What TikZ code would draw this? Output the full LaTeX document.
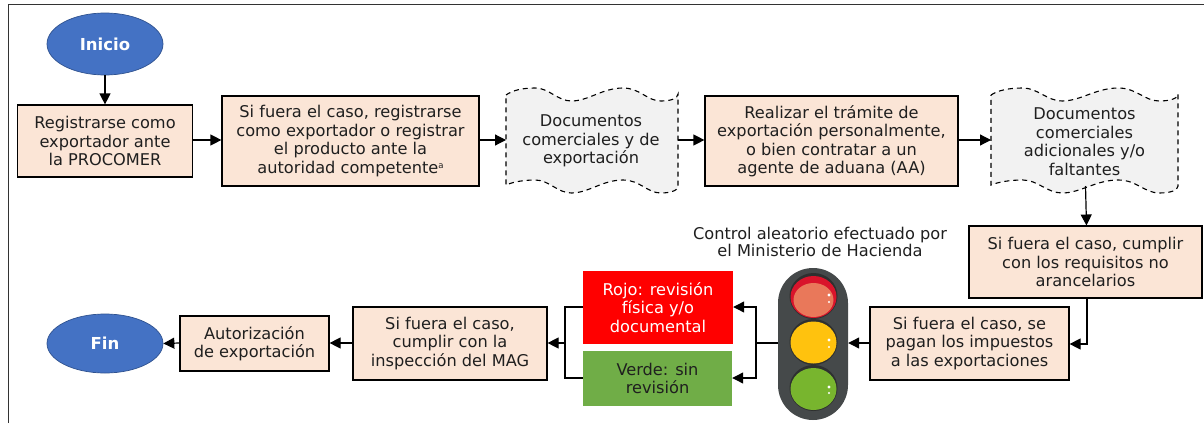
\documentclass[tikz,border=0pt]{standalone}
\usepackage{fontspec}
\setmainfont{DejaVu Sans}
\usetikzlibrary{arrows.meta,shapes.geometric}
\definecolor{peach}{HTML}{FBE5D6}
\definecolor{docgray}{HTML}{F2F2F2}
\definecolor{ovalblue}{HTML}{4472C4}
\definecolor{ovalline}{HTML}{2F528F}
\definecolor{sred}{HTML}{FF0000}
\definecolor{sgreen}{HTML}{70AD47}
\definecolor{housing}{HTML}{45494A}
\definecolor{lampshade}{HTML}{2E3030}
\definecolor{lampredrim}{HTML}{D9142B}
\definecolor{lampred}{HTML}{E9785A}
\definecolor{lampyellow}{HTML}{FFC20E}
\definecolor{lampgreen}{HTML}{78B52E}
\tikzset{
  x=1pt,y=-1pt,
  txt/.style={font=\fontsize{16.2}{18.5}\selectfont,align=center,text=black!88},
  box/.style={txt,draw=black,line width=1.2pt,fill=peach,inner sep=0pt},
  oval/.style={ellipse,draw=ovalline,fill=ovalblue,line width=.7pt,inner sep=0pt,text=white,font=\fontsize{16.5}{19}\selectfont\bfseries},
  flat/.style={txt,inner sep=0pt},
  conn/.style={line width=1.2pt,draw=black,-{Triangle[length=11pt,width=11pt]}},
  plainline/.style={line width=1.2pt,draw=black},
  docline/.style={draw=black,line width=1.1pt,dash pattern=on 5pt off 4pt,fill=docgray},
}
\newcommand{\rectnode}[7]{\node[#1,minimum width=#4-#2,minimum height=#5-#3] (#6) at ({(#2+#4)/2},{(#3+#5)/2}) {#7};}
% wavy document outline: left, top, right, top of lower wave
\newcommand{\docshape}[4]{%
  \pgfmathsetmacro{\w}{(#3-#1)}%
  \draw[docline] (#1,#2+7)
    .. controls ({#1+.04*\w},#2+2) and ({#1+.1*\w},#2) .. ({#1+.17*\w},#2)
    .. controls ({#1+.25*\w},#2) and ({#1+.3*\w},#2+13) .. ({#1+.38*\w},#2+13)
    .. controls ({#1+.48*\w},#2+13) and ({#1+.56*\w},#2) .. ({#1+.68*\w},#2)
    .. controls ({#1+.78*\w},#2) and ({#1+.82*\w},#2+13) .. ({#1+.9*\w},#2+13)
    .. controls ({#1+.95*\w},#2+13) and (#3,#2+11) .. (#3,#2+6)
    -- (#3,#4+6)
    .. controls (#3,#4+11) and ({#1+.95*\w},#4+13) .. ({#1+.9*\w},#4+13)
    .. controls ({#1+.82*\w},#4+13) and ({#1+.78*\w},#4) .. ({#1+.68*\w},#4)
    .. controls ({#1+.56*\w},#4) and ({#1+.48*\w},#4+13) .. ({#1+.38*\w},#4+13)
    .. controls ({#1+.3*\w},#4+13) and ({#1+.25*\w},#4) .. ({#1+.17*\w},#4)
    .. controls ({#1+.1*\w},#4) and ({#1+.04*\w},#4+2) .. (#1,#4+5)
    -- cycle;}
\begin{document}
\begin{tikzpicture}
\useasboundingbox (0,0) rectangle (1204,423);
\draw[line width=1.5pt,draw=black!80] (8.5,423) -- (8.5,4.5) -- (1204,4.5);

\node[oval,minimum width=116,minimum height=62] (inicio) at (105,44) {Inicio};
\rectnode{box}{17.5}{105}{192.5}{177}{reg}{Registrarse como\\exportador ante\\la PROCOMER}
\rectnode{box}{222}{96}{479}{186}{si1}{Si fuera el caso, registrarse\\como exportador o registrar\\el producto ante la\\autoridad competente\raisebox{5pt}{\fontsize{8.5}{9}\selectfont a}}

\docshape{506}{88}{678}{180}
\node[flat] (doc1) at (591,141) {Documentos\\comerciales y de\\exportación};
\rectnode{box}{705}{96}{958}{186}{real}{Realizar el trámite de\\exportación personalmente,\\o bien contratar a un\\agente de aduana (AA)}
\docshape{991}{88}{1178}{180}
\node[flat] (doc2) at (1084.5,141.5) {Documentos\\comerciales\\adicionales y/o\\faltantes};
\coordinate (doc1w) at (506,140);
\coordinate (doc1e) at (678,140);
\coordinate (doc2w) at (991,140);
\coordinate (doc2s) at (1085.5,186);
\coordinate (si2n) at (1086.5,225.5);

\rectnode{box}{969}{226}{1202}{298}{si2}{Si fuera el caso, cumplir\\con los requisitos no\\arancelarios}
\rectnode{box}{870}{307}{1069}{380}{si3}{Si fuera el caso, se\\pagan los impuestos\\a las exportaciones}
\node[flat,font=\fontsize{16.2}{17}\selectfont] (ctrl) at (820,242) {Control aleatorio efectuado por\\el Ministerio de Hacienda};

% traffic light
\node[draw=none,fill=housing,rounded corners=35pt,minimum width=70,minimum height=152,inner sep=0pt] (light) at (813,344) {};
\fill[lampshade] (813.5,296) ellipse (24 and 23);
\fill[lampshade] (813.5,342) ellipse (24 and 23);
\fill[lampshade] (813.5,388) ellipse (24 and 23);
\fill[lampredrim] (813.5,297) ellipse (23 and 21);
\fill[lampred] (813.5,300) ellipse (20 and 17);
\fill[lampyellow] (813.5,342.5) ellipse (23 and 21);
\fill[lampgreen] (813.5,389) ellipse (23 and 21);
\fill[white] (829,295) circle (1.6) (829,302) circle (1.1) (829,340) circle (1.6) (829,347) circle (1.1) (829,387) circle (1.6) (829,393) circle (1.1);

\rectnode{flat,fill=sred,text=white}{583}{271}{733}{344}{rojo}{Rojo: revisión\\física y/o\\documental}
\rectnode{flat,fill=sgreen}{583}{351}{732}{406}{verde}{Verde: sin\\revisión}

\rectnode{box}{353}{307}{547}{380}{mag}{Si fuera el caso,\\cumplir con la\\inspección del MAG}
\rectnode{box}{180}{316}{329}{371}{aut}{Autorización\\de exportación}
\node[oval,minimum width=116,minimum height=59] (fin) at (105,343.5) {Fin};

% connectors
\draw[conn] (inicio) -- (reg);
\draw[conn] (reg.east |- 0,140) -- (si1.west |- 0,140);
\draw[conn] (si1.east |- 0,140) -- (doc1w);
\draw[conn] (doc1e) -- (real.west |- doc1e);
\draw[conn] (real.east |- 0,140) -- (doc2w);
\draw[conn] (doc2s) -- (si2n);
\draw[conn] (si2.south -| 1087,0) |- (si3.east |- 0,344);
\draw[conn] (si3.west |- 0,343) -- (light.east |- 0,343);
\coordinate (jR) at (756,343);
\draw[plainline] (light.west |- 0,343) -- (jR);
\draw[conn] (jR) |- (rojo.east |- 0,307);
\draw[conn] (jR) |- (verde.east |- 0,378);
\coordinate (jL) at (565,343);
\draw[plainline] (rojo.west |- 0,307) -| (jL);
\draw[plainline] (verde.west |- 0,378) -| (jL);
\draw[conn] (jL) -- (mag.east |- jL);
\draw[conn] (mag.west |- 0,343) -- (aut.east |- 0,343);
\draw[conn] (aut.west |- 0,343) -- (fin.east);
\end{tikzpicture}
\end{document}
